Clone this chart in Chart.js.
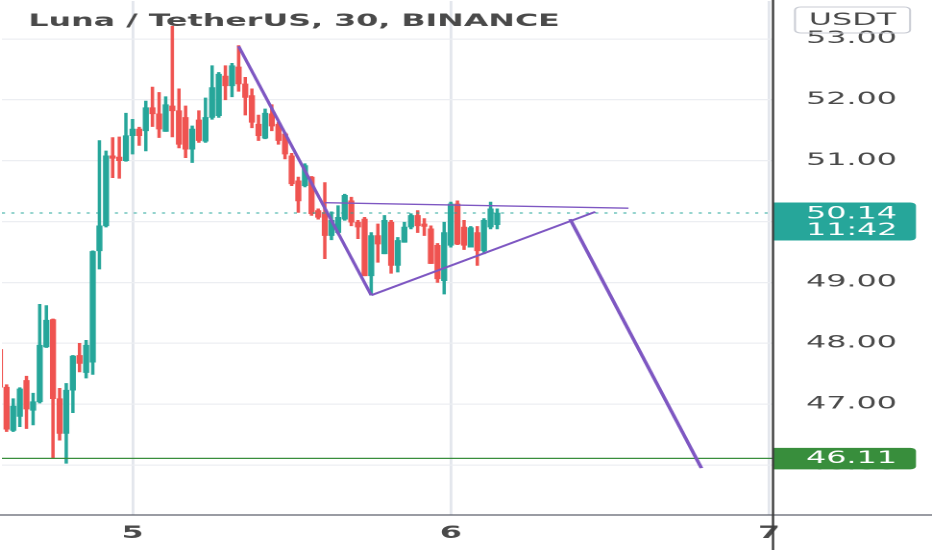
<!DOCTYPE html>
<html>
<head>
<meta charset="utf-8">
<script src="https://cdn.jsdelivr.net/npm/chart.js@4.4.1/dist/chart.umd.min.js"></script>
<style>
  html, body { margin: 0; padding: 0; background: #fff; overflow: hidden; }
  /* the screenshot is squeezed horizontally, so draw narrow and stretch */
  #wrap { position: relative; width: 485px; height: 550px; transform: scaleX(1.9216); transform-origin: 0 0; }
</style>
</head>
<body>
<div id="wrap"><canvas id="chartpoint"></canvas></div>
<script>
// 30 min candles, index counted from day 5 00:00
const candleTimes = [-20, -19, -18, -17, -16, -15, -14, -13, -12, -11, -10, -9, -8, -7, -6, -5, -4, -3, -2, -1,
  0, 1, 2, 3, 4, 5, 6, 7, 8, 9, 10, 11, 12, 13, 14, 15, 16, 17, 18, 19,
  20, 21, 22, 23, 24, 25, 26, 27, 28, 29, 30, 31, 32, 33, 34, 35, 36, 37, 38, 39,
  40, 41, 42, 43, 44, 45, 46, 47, 48, 49, 50, 51, 52, 53, 54, 55];
const opens = [47.90, 47.28, 46.57, 46.80, 47.39, 46.90, 47.04, 47.94, 48.39, 47.09, 46.52, 47.23, 47.80, 47.52, 47.69, 49.52, 49.93, 51.08, 51.06, 51.00,
  51.41, 51.52, 51.49, 51.87, 51.77, 51.48, 51.90, 51.82, 51.71, 51.19, 51.67, 51.32, 51.71, 51.74, 52.39, 52.23, 52.54, 52.26, 52.07, 51.60,
  51.37, 51.77, 51.60, 51.44, 51.08, 50.67, 50.59, 50.73, 50.18, 50.15, 49.77, 49.82, 50.04, 50.34, 49.99, 50.04, 49.11, 49.77, 49.47, 49.99,
  49.28, 49.66, 49.91, 50.10, 49.96, 49.88, 49.61, 49.03, 49.61, 50.29, 49.91, 49.58, 49.82, 49.52, 49.91, 49.95];
const highs = [47.93, 47.32, 47.09, 47.27, 47.46, 47.18, 48.64, 48.62, 48.40, 47.26, 47.34, 47.80, 48.00, 48.05, 49.52, 51.33, 51.16, 51.38, 51.39, 51.78,
  51.68, 51.55, 51.98, 52.21, 52.12, 52.05, 53.21, 52.18, 51.90, 51.57, 51.82, 52.03, 52.56, 52.45, 52.56, 52.60, 52.89, 52.37, 52.18, 51.75,
  51.85, 51.92, 51.63, 51.46, 51.12, 50.73, 50.95, 50.74, 50.21, 50.64, 50.16, 50.26, 50.45, 50.40, 50.02, 50.07, 49.82, 49.96, 50.10, 50.02,
  49.74, 49.99, 50.13, 50.18, 50.05, 49.93, 49.64, 49.99, 50.32, 50.34, 50.02, 49.92, 49.92, 50.05, 50.32, 50.21];
const lows = [47.25, 46.55, 46.55, 46.63, 46.60, 46.66, 47.02, 47.93, 46.11, 46.41, 46.03, 46.86, 47.53, 47.43, 47.49, 49.22, 49.91, 50.72, 50.71, 50.99,
  51.11, 51.25, 51.16, 51.56, 51.38, 51.48, 51.39, 51.21, 51.05, 50.97, 51.30, 51.30, 51.68, 51.71, 52.00, 52.05, 52.14, 51.75, 51.54, 51.33,
  51.36, 51.49, 51.27, 51.03, 50.59, 50.15, 50.57, 50.10, 50.04, 49.39, 49.70, 49.80, 50.02, 49.93, 49.72, 49.11, 48.79, 49.33, 49.47, 49.15,
  49.17, 49.66, 49.88, 49.82, 49.77, 49.31, 49.00, 48.81, 49.58, 49.62, 49.54, 49.58, 49.28, 49.47, 49.88, 49.88];
const closes = [47.28, 46.59, 46.97, 47.25, 46.92, 47.04, 47.97, 48.38, 47.09, 46.52, 47.23, 47.79, 47.67, 47.97, 49.51, 49.93, 51.08, 51.04, 51.00, 51.41,
  51.52, 51.41, 51.87, 51.77, 51.52, 51.92, 51.82, 51.27, 51.19, 51.52, 51.33, 51.71, 52.20, 52.42, 52.23, 52.56, 52.26, 52.04, 51.63, 51.41,
  51.78, 51.57, 51.33, 51.11, 50.62, 50.34, 50.92, 50.13, 50.07, 49.77, 50.02, 50.07, 50.43, 49.99, 49.91, 49.11, 49.77, 49.63, 50.02, 49.28,
  49.69, 49.91, 50.10, 49.93, 49.92, 49.31, 49.06, 49.82, 50.29, 49.63, 49.61, 49.90, 49.52, 50.02, 50.21, 50.14];

const dayTicks = [0, 48, 96];
const dayLabels = ['5', '6', '7'];
const priceTicks = [46, 47, 48, 49, 50, 51, 52, 53];

const xMin = -19.7, xMax = 96.6;
const yMin = 45.18, yMax = 53.623;

const lastPrice = 50.14;
const barCountdown = '11:42';
const levelPrice = 46.11;

// drawn trend lines (time index, price)
const fallLine = [{x: 16, y: 52.88}, {x: 36, y: 48.79}];
const riseLine = [{x: 36, y: 48.79}, {x: 69.8, y: 50.16}];
const topLine = [{x: 29, y: 50.31}, {x: 74.8, y: 50.22}];
const targetLine = [{x: 66, y: 50.04}, {x: 85.8, y: 45.95}];

const UP = '#26a69a';
const DOWN = '#ef5350';
const PURPLE = '#7e57c2';
const LEVEL = '#388e3c';
const TEXT = '#4a4a4a';
const FONT = '"DejaVu Sans", sans-serif';

const candleColor = (c) => closes[c.dataIndex] >= opens[c.dataIndex] ? UP : DOWN;

const wicks = candleTimes.map((t, i) => ({x: t, y: [lows[i], highs[i]]}));
const bodies = candleTimes.map((t, i) => ({x: t, y: [opens[i], closes[i]]}));

const overlay = {
  id: 'overlay',
  afterDraw(chart) {
    const {ctx, chartArea: a, scales: {y}} = chart;
    const boxW = 74.4;
    ctx.save();

    // last price tag
    let py = y.getPixelForValue(lastPrice);
    ctx.fillStyle = UP;
    ctx.beginPath();
    ctx.roundRect(a.right, py - 10.5, boxW, 38, [0, 3, 3, 0]);
    ctx.fill();
    ctx.fillStyle = '#fff';
    ctx.font = '16.5px ' + FONT;
    ctx.textAlign = 'left';
    ctx.textBaseline = 'middle';
    ctx.fillText(lastPrice.toFixed(2), a.right + 17.2, py + 1);
    ctx.fillText(barCountdown, a.right + 17.2, py + 17.5);

    // level tag
    py = y.getPixelForValue(levelPrice);
    ctx.fillStyle = LEVEL;
    ctx.beginPath();
    ctx.roundRect(a.right, py - 10.5, boxW, 21.5, [0, 3, 3, 0]);
    ctx.fill();
    ctx.fillStyle = '#fff';
    ctx.fillText(levelPrice.toFixed(2), a.right + 17.2, py + 0.5);

    // currency box
    ctx.strokeStyle = '#c8cbd3';
    ctx.lineWidth = 1;
    ctx.beginPath();
    ctx.roundRect(413.7, 7, 59.9, 26, 3);
    ctx.stroke();
    ctx.fillStyle = TEXT;
    ctx.textAlign = 'center';
    ctx.fillText('USDT', 443.6, 20.5);

    // title
    ctx.textAlign = 'left';
    ctx.textBaseline = 'alphabetic';
    ctx.font = 'bold 16.5px ' + FONT;
    ctx.fillText('Luna / TetherUS, 30, BINANCE', 14.7, 26);

    // axis lines
    ctx.strokeStyle = '#5d606b';
    ctx.lineWidth = 1.3;
    ctx.beginPath();
    ctx.moveTo(0, a.bottom);
    ctx.lineTo(chart.width, a.bottom);
    ctx.stroke();
    ctx.strokeStyle = '#3d3d3d';
    ctx.lineWidth = 1.2;
    ctx.beginPath();
    ctx.moveTo(a.right, 0);
    ctx.lineTo(a.right, chart.height);
    ctx.stroke();
    ctx.restore();
  }
};

const ctx = document.getElementById('chartpoint');

const chart = new Chart(ctx, {
  type: 'bar',
  data: {
    datasets: [
      {type: 'line', data: fallLine, borderColor: PURPLE, borderWidth: 1.8, pointRadius: 0, order: 0},
      {type: 'line', data: riseLine, borderColor: PURPLE, borderWidth: 1.8, pointRadius: 0, order: 0},
      {type: 'line', data: topLine, borderColor: PURPLE, borderWidth: 1.3, pointRadius: 0, order: 0},
      {type: 'line', data: targetLine, borderColor: PURPLE, borderWidth: 2, pointRadius: 0, order: 0},
      {type: 'line', data: [{x: xMin, y: lastPrice}, {x: xMax, y: lastPrice}], borderColor: UP,
        borderWidth: 1, borderDash: [1.6, 3.3], pointRadius: 0, order: 1},
      {type: 'line', data: [{x: xMin, y: levelPrice}, {x: xMax, y: levelPrice}], borderColor: LEVEL,
        borderWidth: 1.2, pointRadius: 0, order: 1},
      {data: bodies, backgroundColor: candleColor, barThickness: 2.5, minBarLength: 1.8, grouped: false, order: 2},
      {data: wicks, backgroundColor: candleColor, barThickness: 1.1, grouped: false, order: 3}
    ]
  },
  options: {
    responsive: true,
    maintainAspectRatio: false,
    devicePixelRatio: 2,
    animation: false,
    layout: {padding: 0},
    plugins: {legend: {display: false}, tooltip: {enabled: false}, title: {display: false}},
    scales: {
      x: {
        type: 'linear',
        min: xMin,
        max: xMax,
        offset: false,
        grid: {offset: false, color: '#e3e6ec', lineWidth: 1.4, drawTicks: false},
        border: {display: false},
        afterBuildTicks: (s) => { s.ticks = dayTicks.map(v => ({value: v})); },
        afterFit: (s) => { s.height = 35; s.paddingLeft = 0; s.paddingRight = 0; },
        ticks: {
          autoSkip: false,
          maxRotation: 0,
          padding: 9,
          color: TEXT,
          font: {family: FONT, size: 16.5, weight: 'bold'},
          callback: (v) => dayLabels[dayTicks.indexOf(v)]
        }
      },
      y: {
        position: 'right',
        min: yMin,
        max: yMax,
        grid: {color: '#eceef2', lineWidth: 1.2, drawTicks: false},
        border: {display: false},
        afterBuildTicks: (s) => { s.ticks = priceTicks.map(v => ({value: v})); },
        afterFit: (s) => { s.width = 82.73; s.paddingTop = 0; s.paddingBottom = 0; },
        ticks: {
          padding: 17.2,
          crossAlign: 'near',
          color: TEXT,
          font: {family: FONT, size: 16.5},
          callback: (v) => v.toFixed(2)
        }
      }
    }
  },
  plugins: [overlay]
});
</script>
</body>
</html>
